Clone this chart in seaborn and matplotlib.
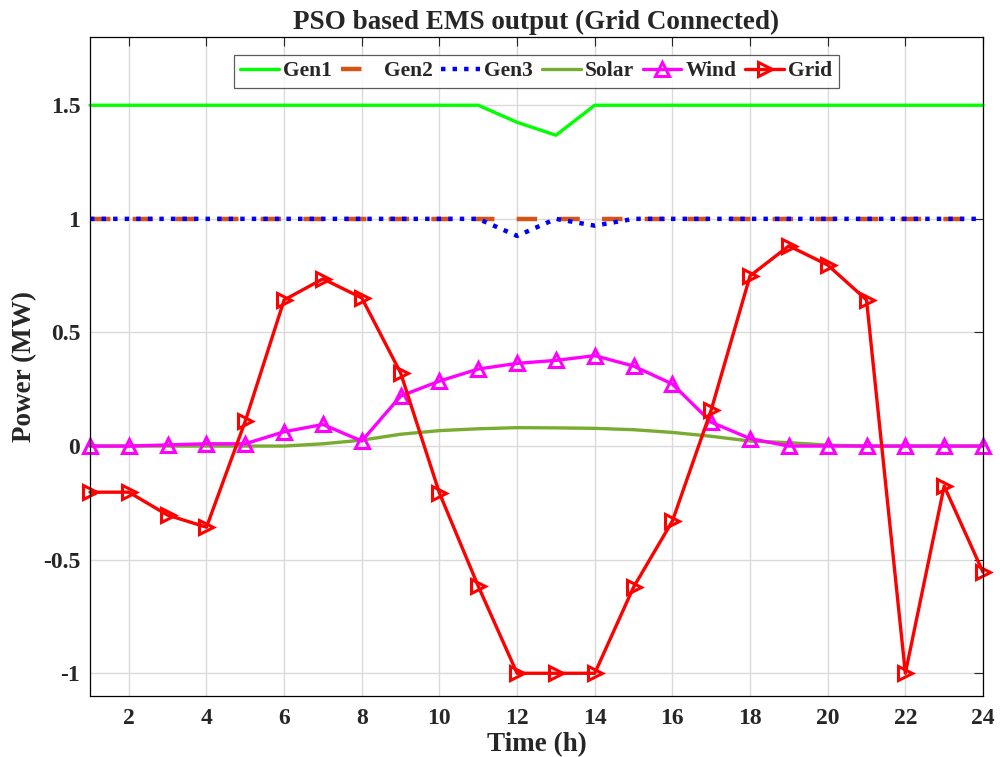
import numpy as np
import pandas as pd
import matplotlib
matplotlib.use("Agg")
import matplotlib.pyplot as plt
import seaborn as sns

hours = list(range(1, 25))

gen1 = [1.5, 1.5, 1.5, 1.5, 1.5, 1.5, 1.5, 1.5, 1.5, 1.5, 1.5, 1.425,
        1.368, 1.5, 1.5, 1.5, 1.5, 1.5, 1.5, 1.5, 1.5, 1.5, 1.5, 1.5]
gen2 = [1.0] * 24
gen3 = [1.0, 1.0, 1.0, 1.0, 1.0, 1.0, 1.0, 1.0, 1.0, 1.0, 1.0, 0.925,
        1.0, 0.97, 1.0, 1.0, 1.0, 1.0, 1.0, 1.0, 1.0, 1.0, 1.0, 1.0]
solar = [0.0, 0.0, 0.0, 0.0, 0.0, 0.0, 0.01, 0.026, 0.052, 0.068, 0.076, 0.081,
         0.08, 0.078, 0.072, 0.06, 0.043, 0.022, 0.015, 0.004, 0.0, 0.0, 0.0, 0.0]
wind = [0.0, 0.0, 0.005, 0.01, 0.01, 0.063, 0.095, 0.022, 0.22, 0.286, 0.339, 0.364,
        0.377, 0.398, 0.352, 0.273, 0.105, 0.033, 0.0, 0.0, 0.0, 0.0, 0.0, 0.0]
grid = [-0.203, -0.203, -0.304, -0.357, 0.11, 0.643, 0.736, 0.652, 0.322, -0.207,
        -0.617, -1.0, -1.0, -1.0, -0.621, -0.33, 0.159, 0.749, 0.881, 0.797,
        0.643, -1.0, -0.176, -0.555]

ytick_vals = [-1, -0.5, 0, 0.5, 1, 1.5]
ytick_labels = ["-1", "-0.5", "0", "0.5", "1", "1.5"]
xtick_vals = list(range(2, 25, 2))

sns.set_style("white")
plt.rcParams["font.family"] = ["Liberation Serif", "DejaVu Serif"]
plt.rcParams["font.weight"] = "bold"

fig = plt.figure(figsize=(10, 7.57), dpi=100)
ax = fig.add_axes([0.09, 0.0806, 0.893, 0.8704])

df = pd.DataFrame({"hour": hours, "Gen1": gen1, "Gen2": gen2, "Gen3": gen3,
                   "Solar": solar, "Wind": wind, "Grid": grid})

sns.lineplot(data=df, x="hour", y="Gen1", ax=ax, color="#00FF00", lw=2.4,
             label="Gen1")
sns.lineplot(data=df, x="hour", y="Gen2", ax=ax, color="#D95319", lw=3.2,
             label="Gen2")
ax.lines[-1].set_dashes([4.6, 5.0])
sns.lineplot(data=df, x="hour", y="Gen3", ax=ax, color="#0000FF", lw=3.2,
             label="Gen3")
ax.lines[-1].set_linestyle((0, (1, 1.6)))
sns.lineplot(data=df, x="hour", y="Solar", ax=ax, color="#77AC30", lw=2.4,
             label="Solar")
sns.lineplot(data=df, x="hour", y="Wind", ax=ax, color="#FF00FF", lw=2.4,
             marker="^", markersize=9.5, markerfacecolor="none",
             markeredgecolor="#FF00FF", markeredgewidth=2.2, label="Wind")
sns.lineplot(data=df, x="hour", y="Grid", ax=ax, color="#FF0000", lw=2.4,
             marker=">", markersize=9.5, markerfacecolor="none",
             markeredgecolor="#FF0000", markeredgewidth=2.2, label="Grid")

for ln in ax.lines:
    ln.set_clip_on(False)

ax.set_xlim(1, 24)
ax.set_ylim(-1.1, 1.8)
ax.set_xticks(xtick_vals)
ax.set_yticks(ytick_vals)
ax.set_yticklabels(ytick_labels)
ax.tick_params(axis="both", labelsize=17, direction="in", length=6.5,
               width=0.8, top=True, right=True, pad=7)
ax.tick_params(axis="x", pad=9)
for lab in ax.get_xticklabels() + ax.get_yticklabels():
    lab.set_fontweight("bold")

ax.grid(True, color="#DADADA", lw=1.0)
ax.set_axisbelow(True)
for sp in ax.spines.values():
    sp.set_color("black")
    sp.set_linewidth(0.9)

ax.set_xlabel("Time (h)", fontsize=19.5, fontweight="bold", labelpad=2)
ax.set_ylabel("Power (MW)", fontsize=19.5, fontweight="bold", labelpad=4)
ax.set_title("PSO based EMS output (Grid Connected)", fontsize=19.5,
             fontweight="bold", pad=6)

leg = ax.legend(loc="upper center", bbox_to_anchor=(0.5, 0.973), ncol=6,
                fontsize=15.5, frameon=True, fancybox=False, handlelength=1.8,
                handletextpad=0.2, columnspacing=0.4, borderpad=0.3,
                borderaxespad=0)
leg.get_frame().set_edgecolor("#333333")
leg.get_frame().set_linewidth(0.9)
for t in leg.get_texts():
    t.set_fontweight("bold")

fig.savefig("out.png", dpi=100)
